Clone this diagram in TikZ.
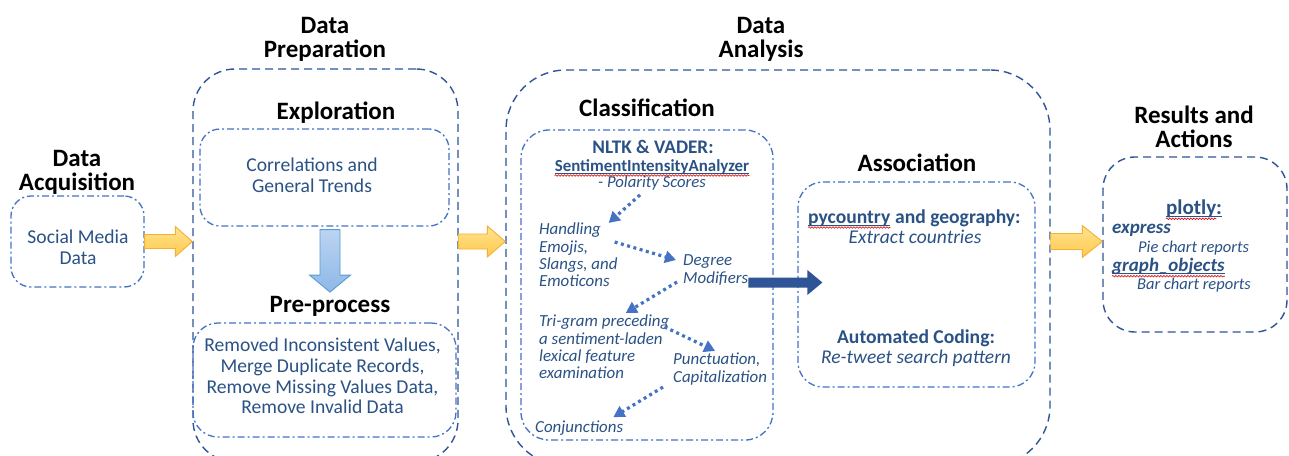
\documentclass[tikz,border=0pt]{standalone}
\usepackage{fontspec}
\setmainfont{Carlito}
\usetikzlibrary{arrows.meta,calc,decorations.pathmorphing}
\definecolor{dkblue}{HTML}{2F5597}
\definecolor{ltblue}{HTML}{4472C4}
\definecolor{txtblue}{HTML}{2A5285}
\definecolor{navyarrow}{HTML}{2F5597}
\definecolor{dotblue}{HTML}{4472C4}
\definecolor{ytop}{HTML}{FFE38F}
\definecolor{ybot}{HTML}{FFC94D}
\definecolor{yedge}{HTML}{F2B134}
\definecolor{btop}{HTML}{BCD4F0}
\definecolor{bbot}{HTML}{8DB8E8}
\definecolor{bedge}{HTML}{5B9BD5}
\newcommand\fatright[6]{%
 \path[#6] let \p1=(#1), \p2=(#2) in
 (\x1,{\y1+#3pt}) -- ({\x2-#5pt},{\y1+#3pt}) -- ({\x2-#5pt},{\y1+#4pt}) -- (\x2,\y1)
 -- ({\x2-#5pt},{\y1-#4pt}) -- ({\x2-#5pt},{\y1-#3pt}) -- (\x1,{\y1-#3pt}) -- cycle;}
\newcommand\fatdown[6]{%
 \path[#6] let \p1=(#1), \p2=(#2) in
 ({\x1+#3pt},\y1) -- ({\x1+#3pt},{\y2+#5pt}) -- ({\x1+#4pt},{\y2+#5pt}) -- (\x1,\y2)
 -- ({\x1-#4pt},{\y2+#5pt}) -- ({\x1-#3pt},{\y2+#5pt}) -- ({\x1-#3pt},\y1) -- cycle;}
\begin{document}
\begin{tikzpicture}[x=1pt,y=-1pt,
 outerbox/.style={draw=dkblue, line width=1.4pt, dash pattern=on 8pt off 5pt, rounded corners=#1, inner sep=0},
 innerbox/.style={draw=ltblue, line width=1.3pt, dash pattern=on 7pt off 3pt on 2pt off 3pt, rounded corners=#1, inner sep=0},
 title/.style={font=\fontsize{25}{24}\selectfont\bfseries, text=black, inner sep=0, align=center},
 body/.style={font=\fontsize{19.6}{20.7}\selectfont, text=txtblue, inner sep=0, align=center},
 clsitem/.style={font=\fontsize{16.9}{17.3}\selectfont\itshape, text=txtblue, inner sep=0, align=left},
 ascb/.style={font=\fontsize{19.6}{20}\selectfont\bfseries, text=txtblue, inner sep=0},
 asci/.style={font=\fontsize{19.5}{20}\selectfont\itshape, text=txtblue, inner sep=0},
 resbi/.style={font=\fontsize{19}{20}\selectfont\bfseries\itshape, text=txtblue, inner sep=0},
 resi/.style={font=\fontsize{16.5}{18}\selectfont\itshape, text=txtblue, inner sep=0},
 dotarrow/.style={draw=dotblue, line width=3.2pt, dash pattern=on 3pt off 3.5pt, -{Triangle[length=11pt,width=12pt]}},
 yarrow/.style={top color=ytop, bottom color=ybot, draw=yedge, line width=0.9pt},
 bluearrow/.style={top color=btop, bottom color=bbot, draw=bedge, line width=0.9pt},
 ulst/.style={draw=txtblue, line width=1pt},
 squig/.style={draw=red!85!black, line width=0.6pt, decorate, decoration={snake, amplitude=0.8pt, segment length=3pt}}
]
\useasboundingbox (0,0) rectangle (1289,455);
\clip (0,0) rectangle (1289,455);
\fill[white] (0,0) rectangle (1289,455);

% containers
\node[innerbox=20, minimum width=133, minimum height=91] (sm) at (77.5,241.5) {};
\node[outerbox=42, minimum width=265, minimum height=393] (prep) at (325.5,265.5) {};
\node[innerbox=20, minimum width=249, minimum height=97] (expl) at (324.5,177.5) {};
\node[innerbox=25, minimum width=263, minimum height=114] (pre) at (324.5,380) {};
\node[outerbox=60, minimum width=544, minimum height=396] (ana) at (778,268) {};
\node[innerbox=28, minimum width=252, minimum height=310] (cls) at (647,285) {};
\node[innerbox=25, minimum width=237, minimum height=205] (assoc) at (916.5,284.5) {};
\node[outerbox=32, minimum width=184, minimum height=175] (res) at (1195,244.5) {};

% titles
\node[title] (tAcq) at (77,172) {Data\\Acquisition};
\node[title] (tPrep) at (325,39) {Data\\Preparation};
\node[title] (tAna) at (761,39) {Data\\Analysis};
\node[title] (tRes) at (1194,127) {Results and\\Actions};
\node[title, anchor=base] (tExpl) at (336,119.5) {Exploration};
\node[title, anchor=base] (tPre) at (330,312.5) {Pre-process};
\node[title, anchor=base] (tCls) at (647,116.5) {Classification};
\node[title, anchor=base] (tAsc) at (917,171.5) {Association};

% body texts
\node[body] (smtext) at (78,247) {Social Media\\Data};
\node[body] (expltext) at (312,175) {Correlations and\\General Trends};
\node[body] (pretext) at (322.5,376) {Removed Inconsistent Values,\\Merge Duplicate Records,\\Remove Missing Values Data,\\Remove Invalid Data};

% classification
\node[font=\fontsize{19.2}{20}\selectfont\bfseries, text=txtblue, inner sep=0, anchor=base] (nltk1) at (653,153.8) {NLTK \& VADER:};
\node[font=\fontsize{16.9}{18}\selectfont\bfseries, text=txtblue, inner sep=0, anchor=base] (nltk2) at (652,171) {SentimentIntensityAnalyzer};
\node[font=\fontsize{16.7}{18}\selectfont\itshape, text=txtblue, inner sep=0, anchor=base] (nltk3) at (652,187) {- Polarity Scores};
\node[clsitem, anchor=west] (hand) at (539,255) {Handling\\Emojis,\\Slangs, and\\Emoticons};
\node[clsitem, anchor=west] (deg) at (683,270) {Degree\\Modifiers};
\node[clsitem, anchor=west] (tri) at (539,347) {Tri-gram preceding\\a sentiment-laden\\lexical feature\\examination};
\node[clsitem, anchor=west] (punc) at (673,369) {Punctuation,\\Capitalization};
\node[clsitem, anchor=base west] (conj) at (535,432) {Conjunctions};

% association
\node[ascb, anchor=base west] (pyc) at (808,223) {pycountry};
\node[ascb, anchor=base west] (geo) at ($(pyc.base east)+(4.4,0)$) {and geography:};
\node[asci, anchor=base] (extr) at (915,243) {Extract countries};
\node[ascb, anchor=base] (auto) at (916,343) {Automated Coding:};
\node[asci, anchor=base] (retw) at (916,363) {Re-tweet search pattern};

% results
\node[font=\fontsize{21}{22}\selectfont\bfseries, text=txtblue, inner sep=0, anchor=base] (plotly) at (1194,214.3) {plotly:};
\node[resbi, anchor=base west] (expr) at (1112,233.7) {express};
\node[resi, anchor=base west] (pie) at (1138,252) {Pie chart reports};
\node[resbi, anchor=base west] (gobj) at (1112,271.7) {graph\_objects};
\node[resi, anchor=base west] (bar) at (1137,289) {Bar chart reports};

% underlines and spell-check marks
\draw[ulst] ($(nltk2.base west)+(0,2)$) -- ($(nltk2.base east)+(0,2)$);
\draw[squig] ($(nltk2.base west)+(0,4.5)$) -- ($(nltk2.base east)+(0,4.5)$);
\draw[ulst] ($(pyc.base west)+(0,2)$) -- ($(pyc.base east)+(0,2)$);
\draw[squig] ($(pyc.base west)+(0,4.5)$) -- ($(pyc.base east)+(0,4.5)$);
\draw[ulst] ($(plotly.base west)+(0,2)$) -- ($(plotly.base east)+(0,2)$);
\draw[squig] ($(plotly.base west)+(0,4.5)$) -- ($(plotly.base east)+(-5.6,4.5)$);
\draw[ulst] ($(gobj.base west)+(0,2)$) -- ($(gobj.base east)+(0,2)$);
\draw[squig] ($(gobj.base west)+(0,4.5)$) -- ($(gobj.base east)+(0,4.5)$);

% dotted arrows
\draw[dotarrow] ($(nltk3.south)+(-12,5)$) -- ($(hand.north east)+(-9,0)$);
\draw[dotarrow] ($(hand.east)+(-3,-13)$) -- ($(deg.west)+(-7,-10)$);
\draw[dotarrow] ($(deg.west)+(-6,12)$) -- ($(tri.north)+(21.5,-2)$);
\draw[dotarrow] ($(tri.north east)+(-5,12)$) -- ($(punc.north)+(-5,-2)$);
\draw[dotarrow] ($(punc.south west)+(-10,2)$) -- ($(conj.north east)+(-10,-3)$);

% block arrows
\coordinate (dbtip) at ($(assoc.west)+(25,-2)$);
\fatright{deg.east |- dbtip}{dbtip}{5}{12.5}{15}{fill=navyarrow}
\fatright{sm.east}{prep.west |- sm.east}{7}{15}{17}{yarrow}
\fatright{prep.east |- sm.east}{ana.west |- sm.east}{7.5}{15.5}{18}{yarrow}
\fatright{ana.east |- sm.east}{res.west |- sm.east}{8}{16}{20}{yarrow}
\fatdown{$(tPre.north |- expl.south)+(0,3)$}{$(tPre.north)+(0,-4)$}{10}{20.5}{17}{bluearrow}
\end{tikzpicture}
\end{document}
